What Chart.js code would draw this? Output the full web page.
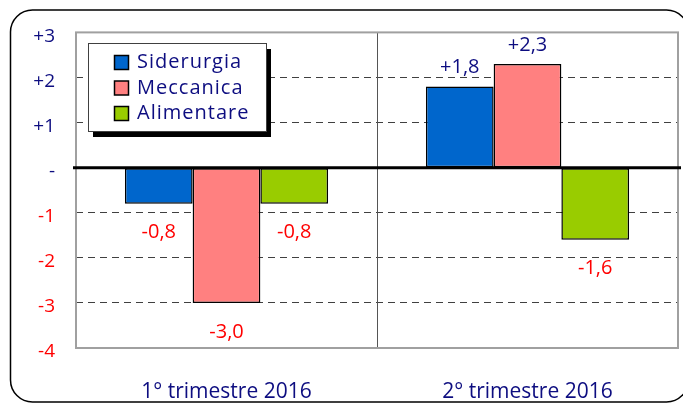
<!DOCTYPE html>
<html>
<head>
<meta charset="utf-8">
<script src="https://cdn.jsdelivr.net/npm/chart.js@4.4.1/dist/chart.umd.min.js"></script>
<style>
  html, body { margin: 0; padding: 0; background: #ffffff; }
  #wrap { width: 683px; height: 403px; }
</style>
</head>
<body>
<div id="wrap"><canvas id="c" width="683" height="403"></canvas></div>
<script>
const categories = ['1° trimestre 2016', '2° trimestre 2016'];
const siderurgia = [-0.8, 1.8];
const meccanica = [-3.0, 2.3];
const alimentare = [-0.8, -1.6];
const seriesNames = ['Siderurgia', 'Meccanica', 'Alimentare'];
const yTickValues = [-4, -3, -2, -1, 0, 1, 2, 3];
const yTickLabels = ['-4', '-3', '-2', '-1', '-', '+1', '+2', '+3'];

const NAVY = '#0d0d80';
const RED = '#ff0000';
const FONT = "'Open Sans', 'DejaVu Sans', sans-serif";

function fmt(v) {
  const s = Math.abs(v).toFixed(1).replace('.', ',');
  return (v > 0 ? '+' : '-') + s;
}

const framePlugin = {
  id: 'frame',
  beforeDraw(chart) {
    const ctx = chart.ctx;
    ctx.save();
    ctx.fillStyle = '#ffffff';
    ctx.fillRect(0, 0, chart.width, chart.height);
    ctx.beginPath();
    ctx.lineWidth = 1.5;
    ctx.strokeStyle = '#000000';
    ctx.roundRect(10.5, 10, 678, 392, 22);
    ctx.stroke();
    ctx.restore();
  },
  afterDatasetsDraw(chart) {
    const ctx = chart.ctx;
    const a = chart.chartArea;
    const xs = chart.scales.x;
    const ys = chart.scales.y;
    ctx.save();
    // category divider
    const mid = (xs.getPixelForValue(0) + xs.getPixelForValue(1)) / 2;
    ctx.beginPath();
    ctx.strokeStyle = '#555555';
    ctx.lineWidth = 1;
    ctx.moveTo(Math.round(mid) + 0.5, a.top);
    ctx.lineTo(Math.round(mid) + 0.5, a.bottom);
    ctx.stroke();
    // plot border
    ctx.beginPath();
    ctx.strokeStyle = '#a0a0a0';
    ctx.lineWidth = 2;
    ctx.strokeRect(a.left, a.top, a.right - a.left, a.bottom - a.top);
    // zero line
    const y0 = ys.getPixelForValue(0);
    ctx.beginPath();
    ctx.strokeStyle = '#000000';
    ctx.lineWidth = 3;
    ctx.moveTo(a.left - 3, y0);
    ctx.lineTo(a.right + 3, y0);
    ctx.stroke();

    // data labels
    ctx.font = '20px ' + FONT;
    ctx.textAlign = 'center';
    ctx.textBaseline = 'middle';
    chart.data.datasets.forEach((ds, di) => {
      const meta = chart.getDatasetMeta(di);
      meta.data.forEach((el, i) => {
        const v = ds.data[i];
        const yy = v >= 0 ? el.y - 19 : el.y + 29;
        ctx.fillStyle = v >= 0 ? NAVY : RED;
        ctx.fillText(fmt(v), el.x, yy);
      });
    });

    // legend
    const lx = 88, ly = 43, lw = 178, lh = 88;
    ctx.fillStyle = '#000000';
    ctx.fillRect(lx + 5, ly + 6, lw, lh);
    ctx.fillStyle = '#ffffff';
    ctx.fillRect(lx, ly, lw, lh);
    ctx.strokeStyle = '#404040';
    ctx.lineWidth = 1;
    ctx.strokeRect(lx + 0.5, ly + 0.5, lw, lh);
    ctx.font = '20px ' + FONT;
    ctx.textAlign = 'left';
    ctx.textBaseline = 'middle';
    try { ctx.letterSpacing = '1px'; } catch (e) {}
    chart.data.datasets.forEach((ds, di) => {
      const cy = 62.5 + di * 25.5;
      ctx.fillStyle = ds.backgroundColor;
      ctx.fillRect(114.5, cy - 7, 14, 14);
      ctx.strokeStyle = '#000000';
      ctx.lineWidth = 1.5;
      ctx.strokeRect(114.5, cy - 7, 14, 14);
      ctx.fillStyle = NAVY;
      ctx.fillText(ds.label, 137, cy);
    });
    ctx.restore();
  }
};

new Chart(document.getElementById('c'), {
  type: 'bar',
  data: {
    labels: categories,
    datasets: [
      { label: seriesNames[0], data: siderurgia, backgroundColor: '#0066cc' },
      { label: seriesNames[1], data: meccanica, backgroundColor: '#ff8080' },
      { label: seriesNames[2], data: alimentare, backgroundColor: '#99cc00' }
    ]
  },
  options: {
    responsive: false,
    animation: false,
    devicePixelRatio: 1,
    layout: { padding: { left: 0, top: 30, right: 5, bottom: 0 } },
    datasets: {
      bar: {
        categoryPercentage: 0.675,
        barPercentage: 1.0,
        borderColor: '#000000',
        borderWidth: 1.5,
        borderSkipped: false
      }
    },
    plugins: {
      legend: { display: false },
      tooltip: { enabled: false },
      title: { display: false }
    },
    scales: {
      x: {
        afterFit(scale) { scale.height = 55; },
        grid: { display: false },
        border: { display: false },
        ticks: {
          color: NAVY,
          font: { family: FONT, size: 21 },
          padding: 23,
          maxRotation: 0
        }
      },
      y: {
        min: -4,
        max: 3,
        afterFit(scale) { scale.width = 76; },
        afterBuildTicks(scale) {
          scale.ticks = yTickValues.map(v => ({ value: v }));
        },
        border: { display: false, dash: [7, 5] },
        grid: {
          drawTicks: false,
          color(ctx) {
            const v = ctx.tick && ctx.tick.value;
            return (v === 0 || v === 3 || v === -4) ? 'rgba(0,0,0,0)' : '#404040';
          },
          lineWidth: 1
        },
        ticks: {
          padding: 21,
          labelOffset: 4,
          font: { family: FONT, size: 19 },
          color(ctx) { return ctx.tick.value >= 0 ? NAVY : RED; },
          callback(value) {
            const idx = yTickValues.indexOf(value);
            return idx >= 0 ? yTickLabels[idx] : '';
          }
        }
      }
    }
  },
  plugins: [framePlugin]
});
</script>
</body>
</html>
